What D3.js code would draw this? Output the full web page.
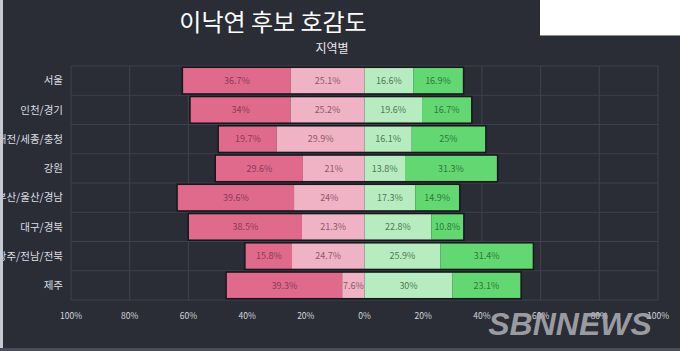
<!DOCTYPE html>
<html>
<head>
<meta charset="utf-8">
<script src="https://cdn.jsdelivr.net/npm/d3@7"></script>
<style>
  html, body { margin: 0; padding: 0; background: #2a2d36; overflow: hidden; }
  svg { display: block; font-family: "Noto Sans CJK KR", "Noto Sans", sans-serif; }
</style>
</head>
<body>
<svg id="chart" width="680" height="351"></svg>
<script>
const regions = ["서울", "인천/경기", "대전/세종/충청", "강원", "부산/울산/경남", "대구/경북", "광주/전남/전북", "제주"];
const strongNeg = [36.7, 34, 19.7, 29.6, 39.6, 38.5, 15.8, 39.3];
const weakNeg = [25.1, 25.2, 29.9, 21, 24, 21.3, 24.7, 7.6];
const weakPos = [16.6, 19.6, 16.1, 13.8, 17.3, 22.8, 25.9, 30];
const strongPos = [16.9, 16.7, 25, 31.3, 14.9, 10.8, 31.4, 23.1];
const ticks = [-100, -80, -60, -40, -20, 0, 20, 40, 60, 80, 100];

const svg = d3.select("#chart");
const width = +svg.attr("width");
const height = +svg.attr("height");

// 背景
svg.append("rect").attr("width", width).attr("height", height).attr("fill", "#2a2d36");
svg.append("rect").attr("x", 540).attr("y", 0).attr("width", 140).attr("height", 35)
  .attr("fill", "#ffffff");
svg.append("line").attr("x1", 540).attr("x2", 680).attr("y1", 35.5).attr("y2", 35.5)
  .attr("stroke", "#8a8c94");

const margin = { top: 66, right: 22, bottom: 51, left: 71 };
const innerW = width - margin.left - margin.right;
const innerH = height - margin.top - margin.bottom;

const g = svg.append("g").attr("transform", `translate(${margin.left},${margin.top})`);

const x = d3.scaleLinear().domain([-100, 100]).range([0, innerW]);
const y = d3.scaleBand().domain(regions).range([0, innerH]).paddingInner(0.14).paddingOuter(0.07);

// グリッド
g.selectAll(".vgrid").data(ticks).join("line")
  .attr("x1", d => x(d)).attr("x2", d => x(d))
  .attr("y1", 0).attr("y2", innerH)
  .attr("stroke", "#3f424c").attr("stroke-width", 1);
g.selectAll(".hgrid").data(d3.range(regions.length + 1)).join("line")
  .attr("x1", 0).attr("x2", innerW)
  .attr("y1", i => i * innerH / regions.length).attr("y2", i => i * innerH / regions.length)
  .attr("stroke", "#3f424c").attr("stroke-width", 1);

// 積み上げデータ
const rows = regions.map((r, i) => ({
  region: r,
  segs: [
    { key: "sn", v: strongNeg[i], x0: -(strongNeg[i] + weakNeg[i]), x1: -weakNeg[i] },
    { key: "wn", v: weakNeg[i], x0: -weakNeg[i], x1: 0 },
    { key: "wp", v: weakPos[i], x0: 0, x1: weakPos[i] },
    { key: "sp", v: strongPos[i], x0: weakPos[i], x1: weakPos[i] + strongPos[i] }
  ]
}));
const fills = { sn: "#e06a8c", wn: "#f0b2c5", wp: "#b6ecbf", sp: "#63d772" };
const txt = { sn: "#8c3a58", wn: "#8c5a6a", wp: "#4f7a57", sp: "#2f7a3a" };

const rowG = g.selectAll(".row").data(rows).join("g")
  .attr("transform", d => `translate(0,${y(d.region)})`);

rowG.append("rect")
  .attr("x", d => x(d.segs[0].x0) - 1.5)
  .attr("y", -1.5)
  .attr("width", d => x(d.segs[3].x1) - x(d.segs[0].x0) + 3)
  .attr("height", y.bandwidth() + 3)
  .attr("fill", "#16171b");

rowG.selectAll(".seg").data(d => d.segs).join("rect")
  .attr("x", d => x(d.x0))
  .attr("y", 0)
  .attr("width", d => x(d.x1) - x(d.x0))
  .attr("height", y.bandwidth())
  .attr("fill", d => fills[d.key]);

rowG.selectAll(".lbl").data(d => d.segs).join("text")
  .attr("x", d => (x(d.x0) + x(d.x1)) / 2)
  .attr("y", y.bandwidth() / 2)
  .attr("dy", "0.35em")
  .attr("text-anchor", "middle")
  .attr("font-size", 9)
  .attr("fill", d => txt[d.key])
  .text(d => d.v + "%");

// カテゴリ
g.selectAll(".cat").data(regions).join("text")
  .attr("x", -8)
  .attr("y", d => y(d) + y.bandwidth() / 2)
  .attr("dy", "0.35em")
  .attr("text-anchor", "end")
  .attr("font-size", 10.5)
  .attr("fill", "#dcdde2")
  .text(d => d);

// X軸ラベル
g.selectAll(".tick").data(ticks).join("text")
  .attr("x", d => x(d))
  .attr("y", innerH + 19)
  .attr("text-anchor", "middle")
  .attr("font-size", 8.5)
  .attr("fill", "#d4d5da")
  .text(d => Math.abs(d) + "%");

// 画像の枠
svg.append("rect").attr("x", 0).attr("y", 0).attr("width", 3).attr("height", height).attr("fill", "#c5c9d3");
svg.append("rect").attr("x", 0).attr("y", 348).attr("width", width).attr("height", 3).attr("fill", "#4a4d57");

// タイトル
svg.append("text").attr("x", 273).attr("y", 31).attr("text-anchor", "middle")
  .attr("font-size", 24).attr("fill", "#ffffff").text("이낙연 후보 호감도");
svg.append("text").attr("x", 332).attr("y", 53).attr("text-anchor", "middle")
  .attr("font-size", 12).attr("fill", "#e8e8ec").text("지역별");

// ウォーターマーク
svg.append("text").attr("x", 570).attr("y", 335).attr("text-anchor", "middle")
  .attr("font-size", 32).attr("font-weight", "bold").attr("font-style", "italic")
  .attr("font-family", "'Liberation Sans', sans-serif")
  .attr("fill", "#a9abb1").attr("fill-opacity", 0.9).text("SBNNEWS");
</script>
</body>
</html>
